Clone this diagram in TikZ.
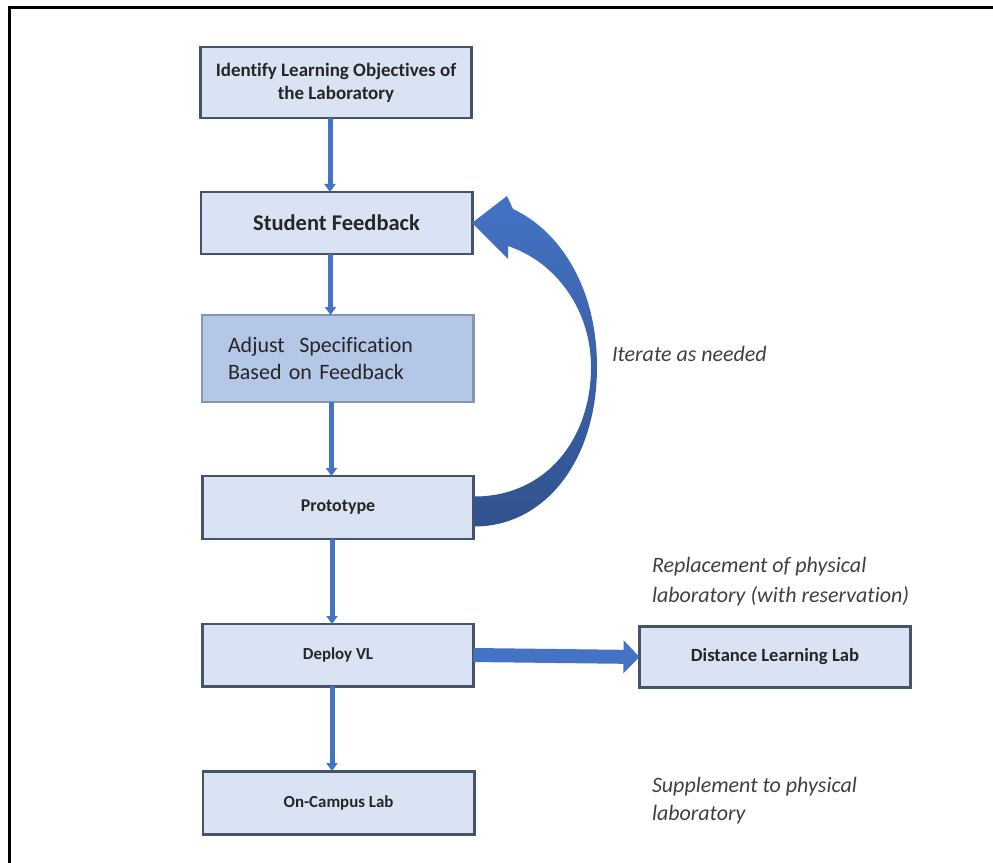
\documentclass[tikz,border=0pt]{standalone}
\usepackage{fontspec}
\setmainfont[Ligatures=NoCommon]{Carlito}
\usetikzlibrary{arrows.meta,positioning,calc}
\definecolor{cBox} {HTML}{DAE3F3}
\definecolor{cEdge}{HTML}{44546A}
\definecolor{cAdj} {HTML}{B4C7E7}
\definecolor{cAdjE}{HTML}{8497B0}
\definecolor{cArr} {HTML}{4472C4}
\definecolor{cTxt} {HTML}{262626}
\tikzset{
  blk/.style ={draw=cEdge,fill=cBox,line width=1.7pt,align=center,text=cTxt,
               minimum width=54.2mm,inner sep=2pt},
  adj/.style ={blk,draw=cAdjE,fill=cAdj,align=left,text width=43.8mm,
               inner xsep=5.2mm,minimum height=17.4mm,
               font=\fontsize{12.5}{15.5}\selectfont},
  note/.style={font=\itshape\fontsize{12.5}{17}\selectfont,text=black!75,
               align=left,anchor=west,inner sep=0pt},
  sig/.style ={-{Triangle[width=2.2mm,length=1.6mm]},draw=cArr,line width=1mm},
  fat/.style ={-{Triangle[width=6.4mm,length=3.2mm]},draw=cArr,line width=2.8mm},
}

\begin{document}
\begin{tikzpicture}[x=0.2mm,y=-0.2mm,every node/.style={outer sep=0pt}]
\useasboundingbox (0,0) rectangle (993,863);
\draw[line width=0.6mm] (9,863) -- (9,8) -- (993,8);

% ---------------- main column ------------------------------------------
\node[blk,minimum height=14.2mm,font=\bfseries\fontsize{10.8}{13}\selectfont]
  (b1) at (336,82.5) {Identify Learning Objectives of\\the Laboratory};
\node[blk,minimum height=12.4mm,font=\bfseries\fontsize{12.8}{15}\selectfont]
  (b2) at (336.5,223) {Student Feedback};
\node[adj] (b3) at (337.5,358.5) {Adjust\ \ Specification\\Based on Feedback};
\node[blk,minimum height=12.6mm,font=\bfseries\fontsize{10.2}{12}\selectfont]
  (b4) at (338,507.5) {Prototype};
\node[blk,minimum height=12.4mm,font=\bfseries\fontsize{9.6}{12}\selectfont]
  (b5) at (338,655) {Deploy VL};
\node[blk,minimum height=12.6mm,font=\bfseries\fontsize{9.6}{12}\selectfont]
  (b7) at (338.5,802.5) {On-Campus Lab};
\node[blk,minimum height=12.2mm,font=\bfseries\fontsize{10.6}{12}\selectfont]
  (b6) at (775,657) {Distance Learning Lab};

\foreach \a/\b in {1/2,2/3,3/4,4/5,5/7}
  {\draw[sig] ([xshift=-1.2mm]b\a.south) -- ([xshift=-1.2mm]b\a.south |- b\b.north);}
\draw[fat] (b5.east) -- (b6.west);

% ---------------- feedback loop ----------------------------------------
\shade[top color=cArr,bottom color=cArr!72!black]
  ($(b4.east)+(0,19)$) .. controls (545,527) and (597,460) .. (597,367)
  .. controls (597,290) and (562,232) .. (513,209) -- (507,196) -- (b2.east)
  -- (508,259) -- (508,246)
  .. controls (556,262) and (591,310) .. (591,367)
  .. controls (591,440) and (545,497) .. ($(b4.east)+(0,-11)$) -- cycle;

% ---------------- notes -------------------------------------------------
\node[note] (n1) at (612,354) {Iterate as needed};
\node[note] (n2) at (652,582) {Replacement of physical\\laboratory (with reservation)};
\node[note,font=\itshape\fontsize{12.5}{16}\selectfont] (n3) at (652,801)
  {Supplement to physical\\laboratory};
\end{tikzpicture}
\end{document}
